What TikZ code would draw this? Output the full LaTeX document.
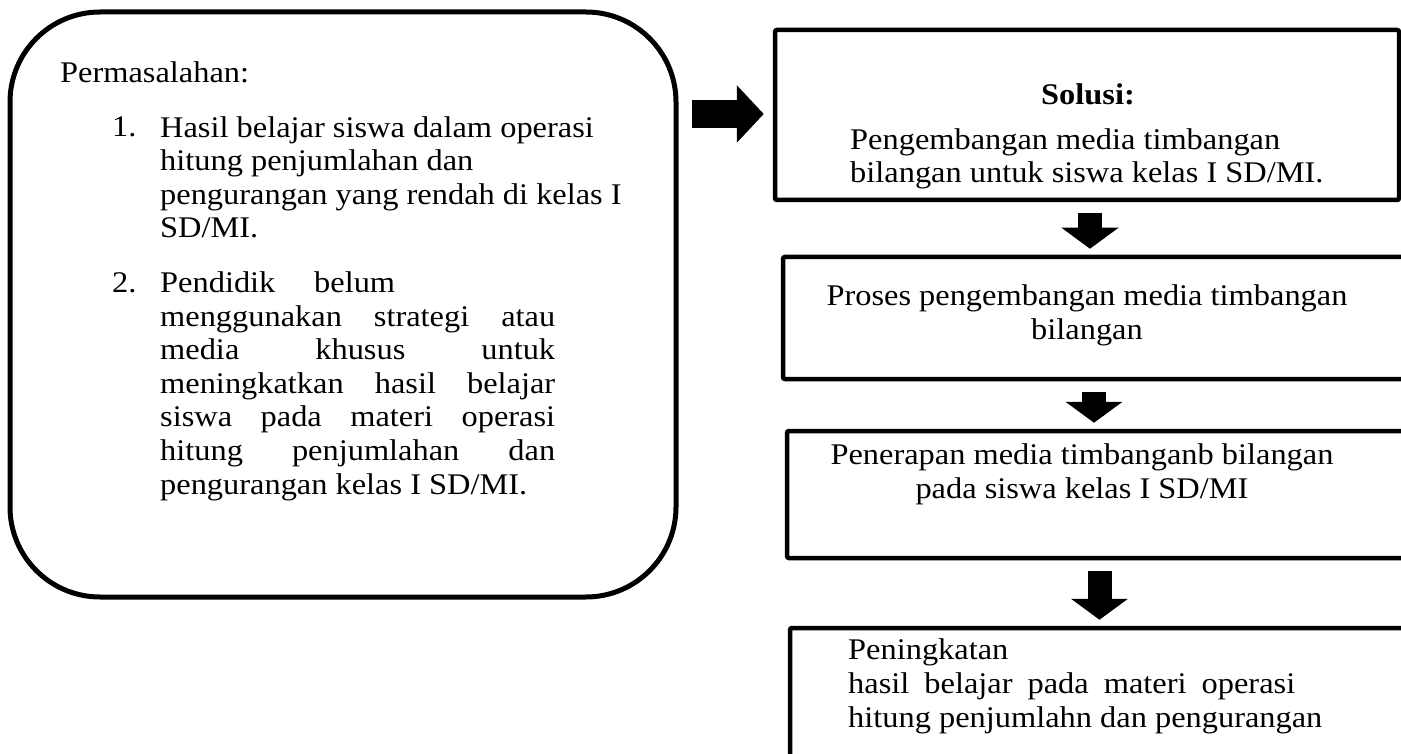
\documentclass[tikz,border=0pt]{standalone}
\usepackage{fontspec}
\setmainfont{Liberation Serif}[FakeStretch=1.08]
\usepackage{tikz}
\usetikzlibrary{arrows.meta,positioning,calc}
\newcommand*{\jline}[2]{\makebox[#1][s]{#2}}
\tikzstyle{txt}=[inner sep=0pt,font=\fontsize{30}{33.6}\selectfont]
\tikzstyle{flowbox}=[draw,line width=4.5pt,rounded corners=2pt]
\tikzstyle{bigarrow}=[line width=24pt,-{Triangle[width=56pt,length=21pt]}]

\begin{document}
\begin{tikzpicture}[x=1pt,y=-1pt]
            \useasboundingbox (0,0) rectangle (1401,754);
            % left box (base of a multi-line node = its last line)
            \node[draw,line width=5pt,rounded corners=90pt,minimum width=666pt,minimum height=585pt] (prob) at (343,304.5) {};
            \node[txt,anchor=base west] (perm) at (60,83) {Permasalahan:};
            \node[txt,anchor=base west] (n1) at (112,137) {1.};
            \node[txt,anchor=base west,align=left] (item1) at (160,237.8) {Hasil belajar siswa dalam operasi\\hitung penjumlahan dan\\pengurangan yang rendah di kelas I\\SD/MI.};
            \node[txt,anchor=base west] (n2) at (112,292) {2.};
            \node[txt,anchor=base west,align=left] (item2) at (160,494) {\jline{235pt}{Pendidik belum}\\
                \jline{395pt}{menggunakan strategi atau}\\
                \jline{395pt}{media khusus untuk}\\
                \jline{395pt}{meningkatkan hasil belajar}\\
                \jline{395pt}{siswa pada materi operasi}\\
                \jline{395pt}{hitung penjumlahan dan}\\
                pengurangan kelas I SD/MI.};
            % right boxes
            \node[flowbox,minimum width=624pt,minimum height=170pt] (box1) at (1087,115) {};
            \node[flowbox,minimum width=622pt,minimum height=122pt] (box2) at (1094,318) {};
            \node[flowbox,minimum width=618pt,minimum height=127pt] (box3) at (1096,494.5) {};
            \node[flowbox,minimum width=615pt,minimum height=146pt] (box4) at (1097.5,701) {};
            \node[txt,anchor=base] (sol) at (1088,105) {\textbf{Solusi:}};
            \node[txt,anchor=base west,align=left] (soltext) at (850,183) {Pengembangan media timbangan\\bilangan untuk siswa kelas I SD/MI.};
            \node[txt,anchor=base,align=center] (proc) at (1087,339) {Proses pengembangan media timbangan\\bilangan};
            \node[txt,anchor=base,align=center] (apply) at (1082,498) {Penerapan media timbanganb bilangan\\pada siswa kelas I SD/MI};
            \node[txt,anchor=base west,align=left] (gain) at (848,727) {Peningkatan\\\jline{447pt}{hasil belajar pada materi operasi}\\hitung penjumlahn dan pengurangan};
            % arrows
            \draw[bigarrow,line width=28pt,-{Triangle[width=56pt,length=27pt]}] ($(prob.east |- box1.west)+(13.5,-1)$) -- ($(box1.west)+(-9,-1)$);
            \draw[bigarrow] ($(box1.south -| box2.north)+(-4,11)$) -- ($(box2.north)+(-4,-6)$);
            \draw[bigarrow] ($(box2.south)+(0,11)$) -- ($(box3.north)+(-2,-6)$);
            \draw[bigarrow] ($(box3.south -| box4.north)+(2,11)$) -- ($(box4.north)+(2,-6)$);
\end{tikzpicture}
\end{document}
